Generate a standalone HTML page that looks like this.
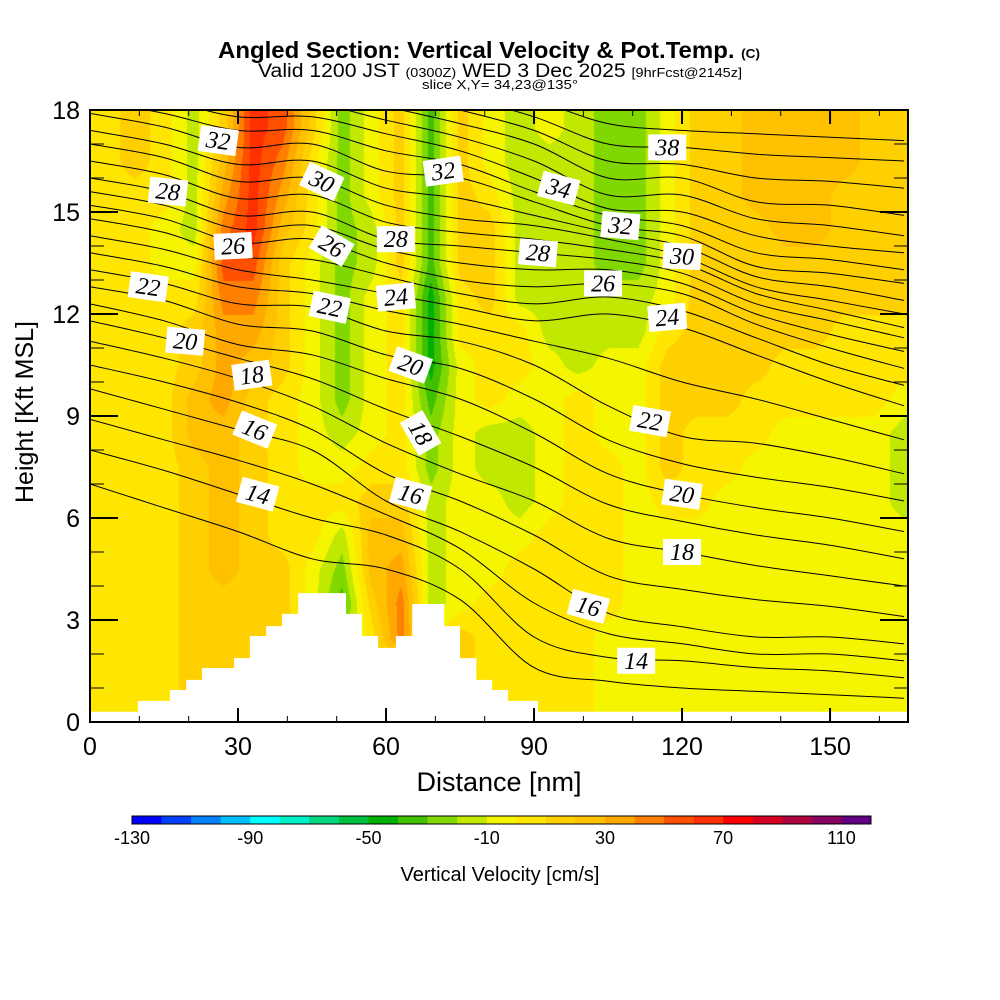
<!DOCTYPE html>
<html><head><meta charset="utf-8"><style>
body{margin:0;background:#fff;width:1000px;height:1000px;overflow:hidden;font-family:"Liberation Sans",sans-serif}
#wrap{position:relative;width:1000px;height:1000px}
canvas{position:absolute;left:90px;top:110px}
svg{position:absolute;left:0;top:0}
</style></head><body><div id="wrap">
<canvas id="cv" width="818" height="612"></canvas>
<svg id="sv" width="1000" height="1000"></svg>
</div>
<script>
// ---- data ----
const fieldCols = [3,9,15,21,27,33,39,45,51,57,63,69,75,81,87,93,99,105,111,117,123,129,135,141,147,153,159,165];
const fieldRows = [17.5,16.5,15.5,14.5,13.5,12.5,11.5,10.5,9.5,8.5,7.5,6.5,5.5,4.5,3.5,2.5,1.5,0.5];
const w175=[5,15,5,-15,15,65,55,15,-25,-5,15,-35,15,-5,-15,-5,-15,-25,-25,-5,15,15,25,25,25,25,15,15];
const w165=[5,15,5,-15,25,65,45,5,-25,-5,15,-35,15,-5,-15,-15,-15,-25,-25,-5,15,15,25,25,25,25,15,15];
const w155=[5,5,5,-15,35,65,35,5,-25,-5,15,-35,15,5,-15,-15,-15,-25,-25,-5,15,15,25,25,25,15,15,15];
const w145=[5,5,-5,-15,45,65,25,5,-25,-15,15,-35,15,15,-15,-15,-15,-25,-25,-5,15,15,15,25,25,15,15,15];
const w135=[5,5,-5,-5,55,55,15,-5,-25,-15,15,-35,15,15,-15,-15,-15,-25,-25,-5,15,15,15,15,15,15,15,15];
const w125=[5,5,5,5,45,45,15,-5,-25,-5,5,-45,5,15,-15,-15,-15,-15,-15,-5,15,15,15,15,15,15,15,15];
const w115=[5,5,5,15,35,35,15,-5,-25,-5,5,-45,5,5,5,-15,-15,-15,-15,5,15,15,15,15,15,5,5,5];
const w105=[5,5,5,15,35,25,15,-5,-25,-5,5,-45,-5,5,5,-5,-15,-5,-5,15,15,15,15,5,5,5,5,5];
const w95=[5,5,5,25,35,15,5,-5,-25,-5,5,-35,-5,5,-5,-5,5,-5,-5,15,15,15,5,5,5,5,5,-5];
const w85=[5,5,5,25,25,15,5,-5,-15,-5,5,-25,-5,-15,-15,-5,5,-5,-5,15,5,5,5,-5,-5,-5,-5,-15];
const w75=[5,5,5,15,25,15,5,-5,-5,5,5,-25,-5,-15,-15,-5,5,5,-5,15,5,5,-5,-5,-5,-5,-5,-15];
const w65=[5,5,5,15,25,15,5,5,5,15,15,-15,-5,-5,-15,-5,5,5,-5,5,5,-5,-5,-5,-5,-5,-5,-15];
const w55=[5,5,5,15,25,15,5,5,-15,25,25,-15,-5,-5,-5,5,5,5,-5,-5,-5,-5,-5,-5,-5,-5,-5,-5];
const w45=[5,5,5,15,25,15,15,-5,-25,25,35,-15,-5,-5,5,5,5,5,-5,-5,-5,-5,-5,-5,-5,-5,-5,-5];
const w35=[5,5,5,15,15,15,15,-5,-35,15,45,-15,-5,5,5,5,5,5,-5,-5,-5,-5,-5,-5,-5,-5,-5,-5];
const w25=[5,5,5,15,15,15,15,-5,-25,5,45,-5,15,5,5,5,5,-5,-5,-5,-5,-5,-5,-5,-5,-5,-5,-5];
const w15=[5,5,5,15,15,15,15,5,5,5,5,5,15,5,5,5,5,-5,-5,-5,-5,-5,-5,-5,-5,-5,-5,-5];
const w05=[5,5,5,15,15,15,5,5,5,5,5,5,5,5,5,5,5,-5,-5,-5,-5,-5,-5,-5,-5,-5,-5,-5];
const field=[w175,w165,w155,w145,w135,w125,w115,w105,w95,w85,w75,w65,w55,w45,w35,w25,w15,w05];

const cbColors=["#0000ff","#0040ff","#0080ff","#00c0ff","#00ffff","#00f0c8","#00d880","#00c040","#00b000","#40c000","#80d800","#c0e800","#f5f500","#ffe600","#ffd000","#ffc000","#ffa800","#ff8000","#ff5000","#ff3000","#ff0000","#d80020","#b00040","#880060","#600080"];
const cbTicks=[-130,-90,-50,-10,30,70,110];

const contourX=[0,15,30,45,60,75,90,105,120,135,150,165];
const contourLevels=[13,14,15,16,17,18,19,20,21,22,23,24,25,26,27,28,29,30,31,32,33,34,35,36,37,38,39];
const L13=[7.0,6.3,5.6,4.8,4.5,3.6,1.6,1.2,1.0,0.9,0.8,0.7];
const L14=[8.0,7.4,6.7,6.0,5.5,4.5,2.5,1.9,1.8,1.6,1.5,1.3];
const L15=[8.9,8.3,7.7,7.0,6.1,5.1,3.5,2.6,2.3,2.0,2.0,1.8];
const L16=[9.8,9.2,8.6,8.0,6.5,5.6,4.5,3.2,2.8,2.5,2.5,2.3];
const L17=[10.5,10.0,9.4,8.6,7.3,6.5,5.5,4.3,3.9,3.6,3.4,3.1];
const L18=[11.2,10.7,10.1,9.3,8.2,7.3,6.5,5.4,5.0,4.6,4.3,4.0];
const L19=[11.8,11.3,10.7,10.1,9.2,8.4,7.5,6.4,5.9,5.5,5.2,4.8];
const L20=[12.3,11.8,11.1,10.8,10.1,9.5,8.5,7.3,6.7,6.3,6.0,5.6];
const L21=[12.8,12.4,11.7,11.5,10.8,10.4,9.5,8.3,7.6,7.2,6.9,6.5];
const L22=[13.3,12.9,12.3,12.2,11.5,11.2,10.5,9.3,8.4,8.2,7.8,7.3];
const L23=[13.8,13.4,12.8,12.6,12.1,11.7,11.2,10.7,10.0,9.5,8.9,8.3];
const L24=[14.3,13.9,13.3,13.0,12.6,12.2,11.8,12.0,11.6,10.8,10.0,9.3];
const L25=[14.8,14.4,13.7,13.6,13.1,12.6,12.3,12.5,12.1,11.3,10.5,9.9];
const L26=[15.2,14.8,14.1,14.2,13.5,13.0,12.8,12.9,12.6,11.7,11.0,10.4];
const L27=[15.6,15.2,14.5,14.6,13.9,13.5,13.3,13.3,12.9,12.0,11.4,10.9];
const L28=[16.0,15.6,14.9,15.0,14.2,14.0,13.8,13.6,13.2,12.3,11.8,11.3];
const L29=[16.5,16.1,15.4,15.5,14.7,14.4,14.2,13.9,13.5,12.6,12.1,11.6];
const L30=[17.0,16.6,15.9,16.0,15.2,14.8,14.6,14.2,13.7,12.8,12.4,12.0];
const L31=[17.4,17.0,16.4,16.5,15.7,15.4,14.9,14.4,14.0,13.1,12.8,12.4];
const L32=[17.9,17.5,16.9,17.0,16.2,16.0,15.3,14.6,14.3,13.4,13.2,12.9];
const L33=[18.3,17.9,17.4,17.4,16.8,16.4,15.6,14.9,14.6,13.8,13.6,13.3];
const L34=[18.7,18.3,17.8,17.8,17.3,16.8,16.0,15.1,15.0,14.3,14.0,13.8];
const L35=[19.0,18.7,18.2,18.2,17.7,17.2,16.5,15.5,15.5,14.8,14.6,14.3];
const L36=[19.4,19.0,18.6,18.6,18.1,17.6,17.0,16.0,16.0,15.3,15.2,14.9];
const L37=[20.0,19.5,19.0,19.0,18.5,18.0,17.4,16.5,16.4,16.0,15.9,15.7];
const L38=[20.5,20.0,19.5,19.4,18.9,18.4,17.8,17.0,16.9,16.7,16.6,16.5];
const L39=[21.0,20.5,20.0,19.8,19.3,18.8,18.3,17.6,17.4,17.3,17.2,17.1];
const contours=[L13,L14,L15,L16,L17,L18,L19,L20,L21,L22,L23,L24,L25,L26,L27,L28,L29,L30,L31,L32,L33,L34,L35,L36,L37,L38,L39];

const labelText=["32","28","26","22","20","18","16","14","30","26","22","28","24","32","20","18","16","38","34","32","28","30","26","24","22","20","18","16","14"];
const labelX=[26,15.8,29,11.8,19.3,32.8,33.4,34,47,49,48.6,62,62,71.6,65,67,65,117,95,107.5,90.8,120,104,117,113.5,120,120,101,110.7];
const labelY=[17.1,15.6,14.0,12.8,11.2,10.2,8.6,6.7,15.9,14.0,12.2,14.2,12.5,16.2,10.5,8.5,6.7,16.9,15.7,14.6,13.8,13.7,12.9,11.9,8.85,6.7,5.0,3.4,1.8];
const labelAngle=[8,6,-3,8,5,-8,22,15,25,30,12,0,-5,-8,20,60,15,0,15,5,5,3,0,-5,10,8,0,15,0];

const terrainX=[0,9.7,16.2,19.5,22.7,29.2,32.4,35.7,38.9,42.2,51.9,55.1,58.4,62.0,65.3,71.8,75.0,78.3,81.5,84.7,90.8,166];
const terrainH=[0.3,0.62,0.94,1.24,1.59,1.88,2.53,2.82,3.18,3.79,3.18,2.53,2.18,2.53,3.47,2.82,1.88,1.24,0.94,0.62,0.3];

const xTicks=[0,30,60,90,120,150];
const yTicks=[0,3,6,9,12,15,18];

// ---- axes ----
const PX0=90,PX1=908,PY0=110,PY1=722,XMAX=165.8,YMAX=18;
const sx=v=>PX0+v*(PX1-PX0)/XMAX;
const sy=v=>PY1-v*(PY1-PY0)/YMAX;
const NS="http://www.w3.org/2000/svg";
const svg=document.getElementById('sv');
function mk(tag,attrs,parent){const e=document.createElementNS(NS,tag);for(const k in attrs)e.setAttribute(k,attrs[k]);(parent||svg).appendChild(e);return e;}

// ---- heatmap ----
const cv=document.getElementById('cv'),ctx=cv.getContext('2d');
const img=ctx.createImageData(818,612);
function hex(c){return [parseInt(c.substr(1,2),16),parseInt(c.substr(3,2),16),parseInt(c.substr(5,2),16)];}
const rgb=cbColors.map(hex);
function sample(x,y){
  let ci=(x-fieldCols[0])/6; ci=Math.max(0,Math.min(fieldCols.length-1.0001,ci));
  let yr=(fieldRows[0]-y); yr=Math.max(0,Math.min(fieldRows.length-1.0001,yr));
  const i=Math.floor(ci),j=Math.floor(yr),fx=ci-i,fy=yr-j;
  const a=field[j][i],b=field[j][i+1],c=field[j+1][i],d=field[j+1][i+1];
  return (a*(1-fx)+b*fx)*(1-fy)+(c*(1-fx)+d*fx)*fy;
}
for(let py=0;py<612;py++){for(let px=0;px<818;px++){
  const v=sample(px*XMAX/818,YMAX-py*YMAX/612);
  let bi=Math.floor((v+130)/10);bi=Math.max(0,Math.min(24,bi));
  const k=(py*818+px)*4,c=rgb[bi];img.data[k]=c[0];img.data[k+1]=c[1];img.data[k+2]=c[2];img.data[k+3]=255;}}
ctx.putImageData(img,0,0);

// ---- contours ----
const clip=mk('clipPath',{id:'pc'});
mk('rect',{x:PX0,y:PY0,width:PX1-PX0,height:PY1-PY0},clip);
const cg=mk('g',{'clip-path':'url(#pc)'});


function spline(pts){let d=`M${pts[0][0]},${pts[0][1]}`;for(let i=0;i<pts.length-1;i++){const p0=pts[Math.max(0,i-1)],p1=pts[i],p2=pts[i+1],p3=pts[Math.min(pts.length-1,i+2)];
 d+=` C${p1[0]+(p2[0]-p0[0])/6},${p1[1]+(p2[1]-p0[1])/6} ${p2[0]-(p3[0]-p1[0])/6},${p2[1]-(p3[1]-p1[1])/6} ${p2[0]},${p2[1]}`;}return d;}
contours.forEach((arr,li)=>{
  const pts=arr.map((h,i)=>[sx(contourX[i]),sy(h)]);
  const p=mk('path',{d:spline(pts),fill:'none',stroke:'#000','stroke-width':1},cg);
  
  
});

// ---- terrain ----
let td=`M${sx(terrainX[0])},${PY1}`;
terrainH.forEach((h,i)=>{td+=` L${sx(terrainX[i])},${sy(h)} L${sx(terrainX[i+1])},${sy(h)}`;});
td+=` L${sx(terrainX[terrainX.length-1])},${PY1} Z`;
const tp=mk('path',{d:td,fill:'#fff',stroke:'none','clip-path':'url(#pc)'});



// ---- contour labels ----
labelText.forEach((t,i)=>{
  const g=mk('g',{transform:`translate(${sx(labelX[i])},${sy(labelY[i])}) rotate(${labelAngle[i]})`});
  
  
  mk('rect',{x:-19,y:-13,width:38,height:26,fill:'#fff'},g);
  const tx=mk('text',{x:0,y:8,'text-anchor':'middle','font-family':'"Liberation Serif",serif','font-size':24,'font-style':'italic',fill:'#000'},g);
  tx.textContent=t;
});

// ---- frame & ticks ----
const fr=mk('rect',{x:PX0,y:PY0,width:PX1-PX0,height:PY1-PY0,fill:'none',stroke:'#000','stroke-width':2});


for(let v=0;v<=165;v+=5){const maj=v%30===0,len=maj?14:(v%10===0?6:0);if(!len)continue;
  mk('line',{x1:sx(v),x2:sx(v),y1:PY1,y2:PY1-len,stroke:'#000','stroke-width':maj?2:1});
  mk('line',{x1:sx(v),x2:sx(v),y1:PY0,y2:PY0+len,stroke:'#000','stroke-width':maj?2:1});}
for(let v=0;v<=18;v++){const maj=v%3===0,len=maj?28:14;
  mk('line',{x1:PX0,x2:PX0+len,y1:sy(v),y2:sy(v),stroke:'#000','stroke-width':maj?2:1});
  mk('line',{x1:PX1,x2:PX1-len,y1:sy(v),y2:sy(v),stroke:'#000','stroke-width':maj?2:1});}
xTicks.forEach(v=>{const t=mk('text',{x:sx(v),y:755,'text-anchor':'middle','font-size':25,fill:'#000'});t.textContent=v;
  });
yTicks.forEach(v=>{const t=mk('text',{x:80,y:sy(v)+9,'text-anchor':'end','font-size':25,fill:'#000'});t.textContent=v;
  });

// ---- colorbar ----
const CB0=132,CBW=29.56;
cbColors.forEach((c,i)=>{const r=mk('rect',{x:CB0+i*CBW,y:816,width:CBW+0.3,height:8,fill:c});
  });
mk('rect',{x:CB0,y:816,width:25*CBW,height:8,fill:'none',stroke:'#000','stroke-width':1});
cbTicks.forEach(v=>{const t=mk('text',{x:CB0+(v+130)/10*CBW,y:844,'text-anchor':'middle','font-size':18,fill:'#000'});t.textContent=v;
  });
</script>
<svg width="1000" height="1000" style="position:absolute;left:0;top:0;pointer-events:none">
<text x="218" y="58" textLength="542" lengthAdjust="spacingAndGlyphs" font-size="23" font-weight="bold">Angled Section: Vertical Velocity &amp; Pot.Temp. <tspan font-size="13">(C)</tspan></text>
<text x="258" y="77" textLength="484" lengthAdjust="spacingAndGlyphs" font-size="19">Valid 1200 JST <tspan font-size="13">(0300Z)</tspan> WED 3 Dec 2025 <tspan font-size="13">[9hrFcst@2145z]</tspan></text>
<text x="422" y="89" textLength="156" lengthAdjust="spacingAndGlyphs" font-size="13">slice X,Y= 34,23@135°</text>
<text transform="translate(33,412) rotate(-90)" text-anchor="middle" font-size="25">Height [Kft MSL]</text>
<text x="499" y="791" text-anchor="middle" font-size="27">Distance [nm]</text>
<text x="500" y="881" text-anchor="middle" font-size="20">Vertical Velocity [cm/s]</text>
</svg>
</body></html>
